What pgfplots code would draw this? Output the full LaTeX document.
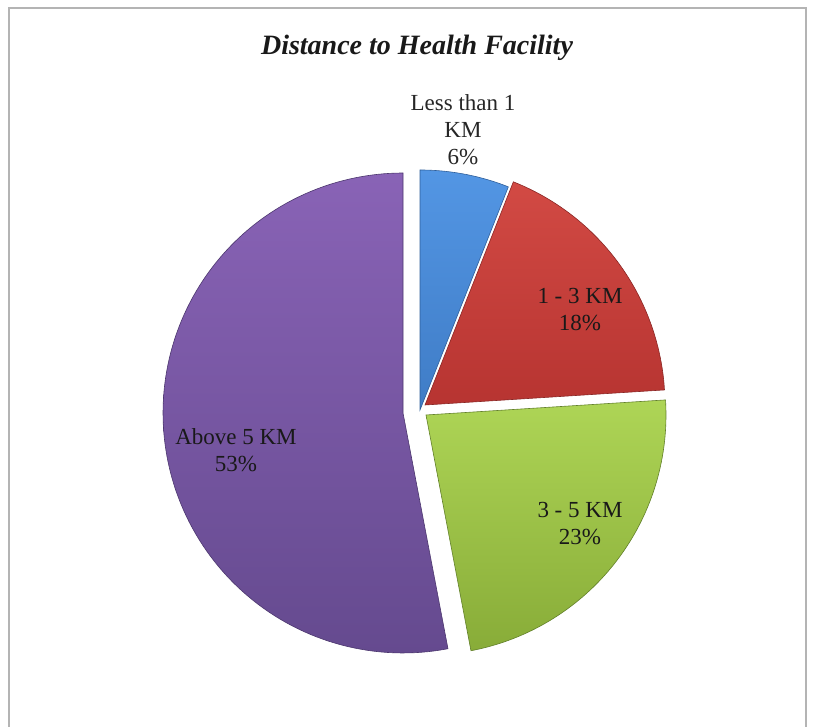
\documentclass[border=0pt]{standalone}
\usepackage{pgfplots}
\pgfplotsset{compat=1.18}
\usepackage{fontspec}
\setmainfont{Liberation Serif}
\definecolor{bluetop}{HTML}{5396E4}
\definecolor{bluebot}{HTML}{3F7CC6}
\definecolor{blueedge}{HTML}{2E5E9A}
\definecolor{redtop}{HTML}{D24A44}
\definecolor{redbot}{HTML}{B73431}
\definecolor{rededge}{HTML}{8A2624}
\definecolor{greentop}{HTML}{AED556}
\definecolor{greenbot}{HTML}{88AC38}
\definecolor{greenedge}{HTML}{62802A}
\definecolor{purptop}{HTML}{8963B6}
\definecolor{purpbot}{HTML}{654A8F}
\definecolor{purpedge}{HTML}{4C376E}
\definecolor{framegray}{HTML}{B4B4B4}
% data: share of respondents (%)
\def\pA{6}  % Less than 1 KM
\def\pB{18} % 1 - 3 KM
\def\pC{23} % 3 - 5 KM
\def\pD{53} % Above 5 KM
\pgfmathsetmacro{\aA}{90-3.6*\pA}
\pgfmathsetmacro{\aB}{\aA-3.6*\pB}
\pgfmathsetmacro{\aC}{\aB-3.6*\pC}
\pgfmathsetmacro{\aD}{\aC-3.6*\pD}
\begin{document}
\begin{tikzpicture}
\useasboundingbox (0,0) rectangle (815pt,727pt);
\begin{axis}[at={(0,0)}, anchor=south west, x=1pt, y=1pt,
  xmin=0, xmax=815, ymin=0, ymax=727, hide axis, clip=false,
  samples=120]
% Above 5 KM
\addplot[draw=purpedge, line width=0.6pt, top color=purptop, bottom color=purpbot, domain=\aC+360:90]
  ({403+240*cos(x)}, {314+240*sin(x)}) -- (axis cs:403,314) -- cycle;
% Less than 1 KM
\addplot[draw=blueedge, line width=0.6pt, top color=bluetop, bottom color=bluebot, domain=\aA:90]
  ({420+240*cos(x)}, {317+240*sin(x)}) -- (axis cs:420,317) -- cycle;
% 1 - 3 KM
\addplot[draw=rededge, line width=0.6pt, top color=redtop, bottom color=redbot, domain=\aB:\aA]
  ({425+240*cos(x)}, {322+240*sin(x)}) -- (axis cs:425,322) -- cycle;
% 3 - 5 KM
\addplot[draw=greenedge, line width=0.6pt, top color=greentop, bottom color=greenbot, domain=\aC:\aB]
  ({426+240*cos(x)}, {312+240*sin(x)}) -- (axis cs:426,312) -- cycle;

\node[font=\fontsize{28}{34}\selectfont\bfseries\itshape, text=black!90] at (axis cs:417,679) {Distance to Health Facility};
\node[align=center, font=\fontsize{23}{27}\selectfont, text=black!85] at (axis cs:463,597) {Less than 1\\KM\\6\%};
\node[align=center, font=\fontsize{23}{27}\selectfont, text=black!90] at (axis cs:580,417) {1 - 3 KM\\18\%};
\node[align=center, font=\fontsize{23}{27}\selectfont, text=black!90] at (axis cs:580,203) {3 - 5 KM\\23\%};
\node[align=center, font=\fontsize{23}{27}\selectfont, text=black!90] at (axis cs:236,277) {Above 5 KM\\53\%};
\end{axis}
\draw[framegray, line width=1.2pt] (9pt,-5pt) -- (9pt,719pt) -- (806pt,719pt) -- (806pt,-5pt);
\end{tikzpicture}
\end{document}
